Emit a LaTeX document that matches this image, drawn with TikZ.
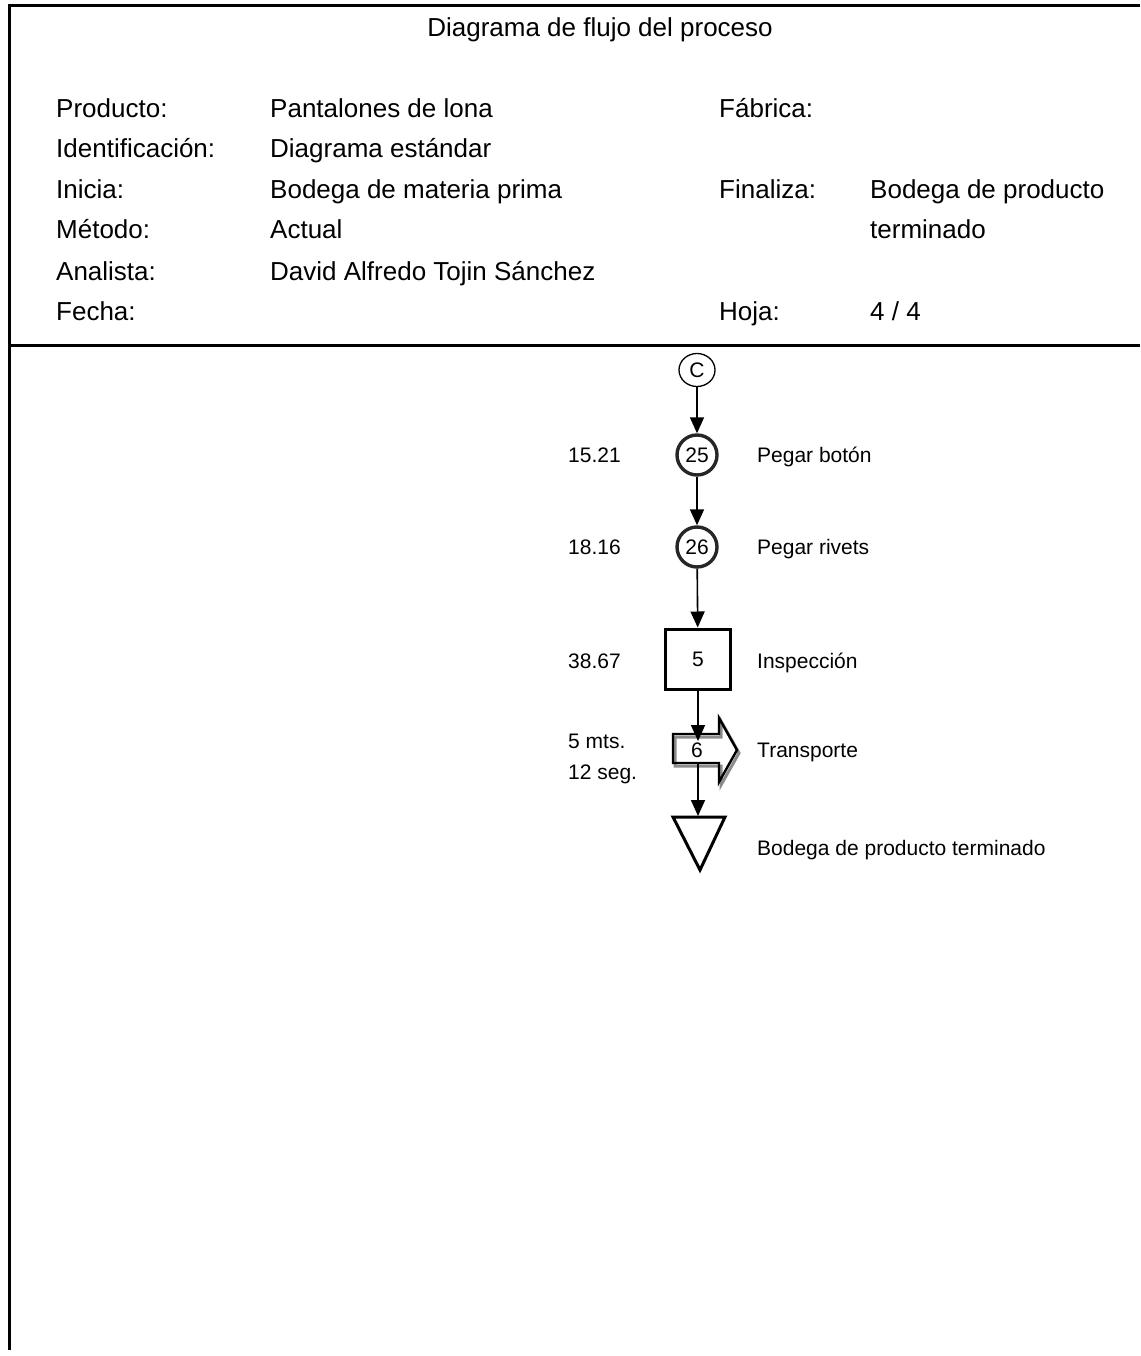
\documentclass[tikz,border=0pt]{standalone}
\usepackage{fontspec}
\setmainfont{Liberation Sans}
\usetikzlibrary{arrows.meta,shapes.geometric}
\begin{document}
\begin{tikzpicture}[x=1pt,y=-1pt,
  big/.style={font=\fontsize{26}{31}\selectfont, inner sep=0, anchor=base west},
  sm/.style={font=\fontsize{21}{25}\selectfont, inner sep=0, anchor=base west},
  flow/.style={-{Triangle[length=16pt,width=14pt]}, line width=1.6pt},
  opcircle/.style={circle, draw=black!85, line width=3.4pt, minimum size=40pt, inner sep=0, font=\fontsize{21}{25}\selectfont},
  frame/.style={line width=3pt}
]
\useasboundingbox (0,0) rectangle (1140,1356);
% frame
\draw[frame] (1140,6) -- (9,6) -- (9,1350);
\draw[frame] (9,345) -- (1140,345);

% header
\node[big, anchor=base] (title) at (600,37) {Diagrama de flujo del proceso};
\node[big] (l1) at (56,118) {Producto:};
\node[big] (l2) at (56,158) {Identificación:};
\node[big] (l3) at (56,199) {Inicia:};
\node[big] (l4) at (56,239) {Método:};
\node[big] (l5) at (56,280) {Analista:};
\node[big] (l6) at (56,320) {Fecha:};
\node[big] (v1) at (270,118) {Pantalones de lona};
\node[big] (v2) at (270,158) {Diagrama estándar};
\node[big] (v3) at (270,199) {Bodega de materia prima};
\node[big] (v4) at (270,239) {Actual};
\node[big] (v5) at (270,280) {David Alfredo Tojin Sánchez};
\node[big] (r1) at (719,118) {Fábrica:};
\node[big] (r3) at (719,199) {Finaliza:};
\node[big] (r6) at (719,320) {Hoja:};
\node[big] (w3) at (870,199) {Bodega de producto};
\node[big] (w4) at (870,239) {terminado};
\node[big] (w6) at (870,320) {4 / 4};

% flow symbols
\node[ellipse, draw, line width=1.3pt, minimum width=36pt, minimum height=33pt, inner sep=0,
      font=\fontsize{21}{25}\selectfont] (c) at (697,370) {C};
\node[opcircle] (o25) at (697,455) {25};
\node[opcircle] (o26) at (697,547) {26};
\node[draw, line width=3pt, minimum width=65pt, minimum height=60pt, inner sep=0,
      font=\fontsize{21}{25}\selectfont] (sq) at (698,659) {5};

% transport block arrow (with grey shadow)
\draw[line width=3pt, black!45, line join=miter]
  (675,737) -- (721,737) -- (721,721) -- (739,753) -- (721,785) -- (721,766) -- (675,766) -- cycle;
\draw[line width=2.4pt, line join=miter]
  (673,734) -- (719,734) -- (719,718) -- (737,750) -- (719,782) -- (719,763) -- (673,763) -- cycle;
\node[font=\fontsize{21}{25}\selectfont, inner sep=0] (t6) at (697,750) {6};
\coordinate (tin) at (698,741);
\coordinate (tout) at (698,764);

% storage triangle
\draw[line width=3pt, line join=miter] (673,817) -- (725,817) -- (700,870) -- cycle;
\coordinate (tri) at (698,816);

% connectors
\draw[flow] (c) -- (o25);
\draw[flow] (o25) -- (o26);
\draw[flow] (o26) -- (sq);
\draw[flow] (sq) -- (tin);
\draw[flow] (tout) -- (tri);

% side labels
\node[sm] (a25) at (568,462.5) {15.21};
\node[sm] (a26) at (568,554.5) {18.16};
\node[sm] (a5) at (568,668.5) {38.67};
\node[sm] (a6) at (568,748.5) {5 mts.};
\node[sm] (a6b) at (568,779.5) {12 seg.};
\node[sm] (b25) at (757,462.5) {Pegar botón};
\node[sm] (b26) at (757,554.5) {Pegar rivets};
\node[sm] (b5) at (757,668.5) {Inspección};
\node[sm] (b6) at (757,757.5) {Transporte};
\node[sm] (bt) at (757,855.5) {Bodega de producto terminado};
\end{tikzpicture}
\end{document}
